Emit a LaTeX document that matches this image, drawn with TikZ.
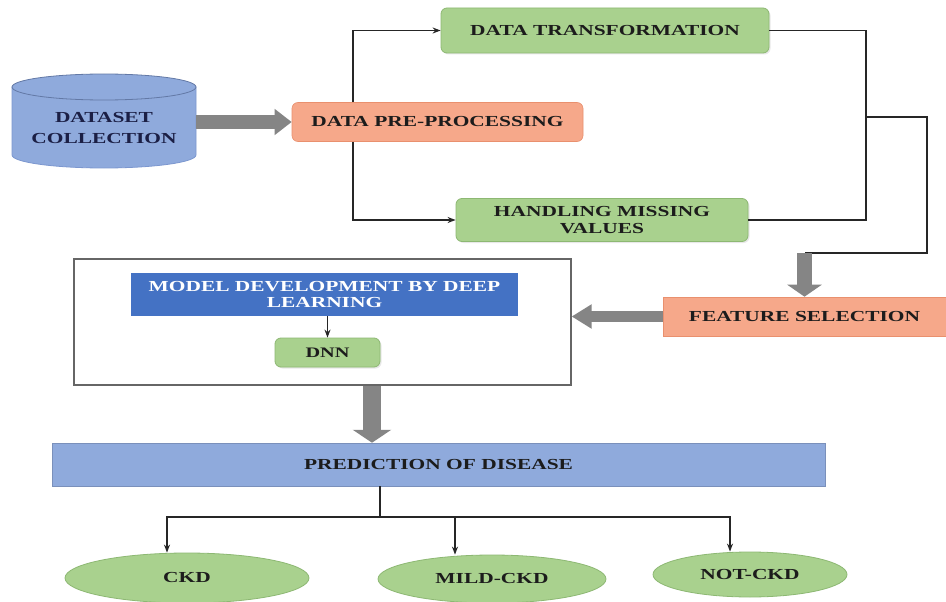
\documentclass[tikz,border=0pt]{standalone}
\usepackage{fontspec}
\setmainfont{Liberation Serif}[FakeStretch=1.4]
\usetikzlibrary{arrows.meta,shapes.geometric,shadows,calc}
\definecolor{grn}{HTML}{A9D18E}
\definecolor{grnb}{HTML}{8DB873}
\definecolor{org}{HTML}{F6A88A}
\definecolor{orgb}{HTML}{E9906E}
\definecolor{lblue}{HTML}{8FAADC}
\definecolor{cylb}{HTML}{7C97CF}
\definecolor{dblue}{HTML}{4472C4}
\definecolor{fatg}{HTML}{858585}
\definecolor{txt}{HTML}{1C1C1C}
\definecolor{navy}{HTML}{1B1F45}
\begin{document}
\begin{tikzpicture}[x=1pt,y=-1pt,
 lab/.style={font=\fontsize{15.3}{16.5}\selectfont\bfseries, text=txt, align=center, inner sep=0pt},
 gbox/.style={lab, rounded corners=6pt, fill=grn, draw=grnb, line width=0.8pt, drop shadow={opacity=0.18,shadow xshift=1.5pt,shadow yshift=-1.5pt}},
 obox/.style={lab, rounded corners=6pt, fill=org, draw=orgb, line width=0.6pt},
 conn/.style={line width=1.5pt, draw=black!85},
 arr/.style={conn, -{Stealth[length=8pt,width=6pt]}},
 fat/.style n args={3}{line width=#1pt, draw=fatg, -{Triangle[length=#3pt,width=#2pt]}},
 oval/.style={lab, ellipse, fill=grn, draw=grnb, line width=0.8pt, inner sep=0pt}]
\useasboundingbox (0,0) rectangle (946,602);
\fill[white] (0,0) rectangle (946,602);

% cylinder
\draw[fill=lblue, draw=cylb, line width=0.8pt] (12,87) -- (12,155) arc[start angle=180,end angle=360,x radius=92pt,y radius=13pt] -- (196,87) -- cycle;
\draw[fill=lblue, draw=cylb!80!black, line width=0.8pt] (104,87) ellipse [x radius=92pt, y radius=13pt];
\node[lab, text=navy, minimum width=184, minimum height=80] (ds) at (104,128) {DATASET\\[5pt]COLLECTION};

\node[obox, minimum width=291, minimum height=39] (pre) at (437.5,122) {DATA PRE-PROCESSING};
\node[gbox, minimum width=328, minimum height=45] (dt) at (605,30.5) {DATA TRANSFORMATION};
\node[gbox, minimum width=292, minimum height=43] (hmv) at (602,220) {HANDLING MISSING\\VALUES};
\node[obox, rounded corners=0pt, minimum width=283, minimum height=39] (fs) at (804.5,316.5) {FEATURE SELECTION};

\node[draw=black!60, line width=1.2pt, fill=white, minimum width=497, minimum height=126] (mbox) at (322.5,322) {};
\node[lab, text=white, fill=dblue, minimum width=387, minimum height=43] (md) at (324.5,294.5) {MODEL DEVELOPMENT BY DEEP\\LEARNING};
\node[gbox, font=\fontsize{14.5}{16}\selectfont\bfseries, minimum width=105, minimum height=29] (dnn) at (327.5,352.5) {DNN};

\node[lab, fill=lblue, draw=lblue!85!black, line width=0.5pt, minimum width=773, minimum height=43] (pred) at (438.5,464.5) {PREDICTION OF DISEASE};

\node[oval, minimum width=244, minimum height=50] (ckd) at (187,578) {CKD};
\node[oval, minimum width=228, minimum height=48] (mild) at (492,579) {MILD-CKD};
\node[oval, minimum width=194, minimum height=45] (notckd) at (750,574.5) {NOT-CKD};

\coordinate (sp) at (353,0);
\coordinate (mx) at (866,0);
\coordinate (j) at (866,117);
\coordinate (r) at (927,253);
\coordinate (fa) at (372,0);
\coordinate (b) at (380,517);
\coordinate (a1) at (167,0);
\coordinate (a2) at (455,0);
\coordinate (a3) at (730,0);

\draw[arr] (pre.north -| sp) |- (dt.west);
\draw[arr] (pre.south -| sp) |- (hmv.west);
\draw[conn] (dt.east) -| (mx |- hmv.east) -- (hmv.east);
\draw[conn] (j) -| (r) -- (r -| fs.north);
\draw[fat={15}{34}{12}] (r -| fs.north) -- (fs.north);
\draw[fat={13}{25}{17}] (ds.east |- pre.west) -- (pre.west);
\draw[fat={11}{23}{20}] (fs.west) -- (fs.west -| mbox.east);
\draw[fat={18}{38}{13}] (mbox.south -| fa) -- (pred.north -| fa);
\draw[arr, line width=1.2pt] (md.south -| dnn.north) -- (dnn.north);
\draw[conn] (pred.south -| b) -- (b);
\draw[arr] (b) -| (a1 |- ckd.north);
\draw[arr] (b) -| (a3 |- notckd.north);
\draw[arr] (b -| a2) -- (a2 |- mild.north);
\end{tikzpicture}
\end{document}
